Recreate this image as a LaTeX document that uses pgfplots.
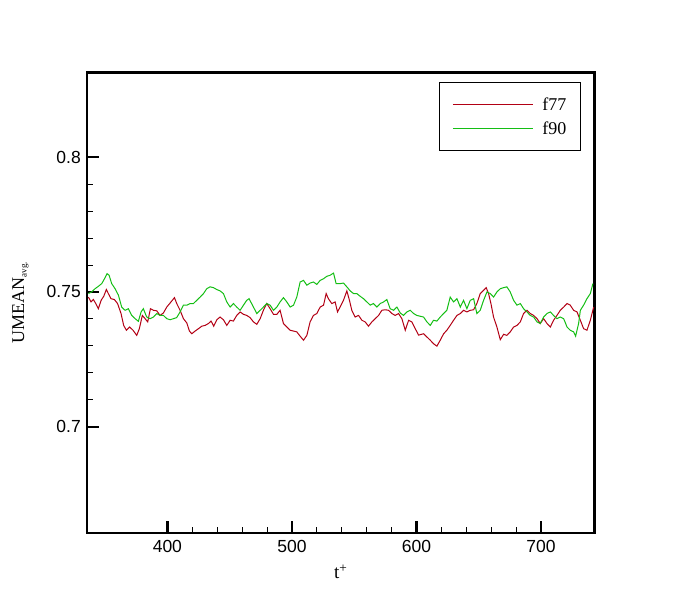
\documentclass[border=0pt]{standalone}
\usepackage{fontspec}
\setmainfont{Liberation Serif}
\newfontfamily\arial{Liberation Sans}
\usepackage{pgfplots}
\pgfplotsset{compat=1.18}
\usetikzlibrary{calc}
\definecolor{cred}{RGB}{178,0,20}
\definecolor{cgreen}{RGB}{20,190,20}
\begin{document}
\begin{tikzpicture}
\begin{axis}[
  scale only axis, width=507pt, height=460.5pt,
  xmin=335.7, xmax=742.8, ymin=0.6606, ymax=0.8314,
  xtick={400,500,600,700}, ytick={0.7,0.75,0.8},
  yticklabels={0.7,0.75,0.8},
  minor x tick num=4, minor y tick num=4,
  tick pos=left, tick align=inside,
  major tick length=12pt, minor tick length=6pt,
  major tick style={line width=2.4pt, black},
  minor tick style={line width=1pt, black},
  axis line style={line width=2.4pt, black},
  /pgf/number format/assume math mode=true,
  ticklabel style={font=\arial\fontsize{17.5}{20}\selectfont},
  xticklabel style={yshift=-4pt},
  yticklabel style={xshift=-3pt},
  xlabel={t\textsuperscript{+}},
  xlabel style={font=\fontsize{19}{22}\selectfont, at={(axis description cs:0.5,-0.085)}, anchor=center},
  ylabel={UMEAN\raisebox{-0.3ex}{\fontsize{9}{10}\selectfont avg.}},
  ylabel style={font=\fontsize{18}{21}\selectfont, at={(axis description cs:-0.132,0.5)}, anchor=center, rotate=0},
  legend cell align=left,
  legend image code/.code={\draw[#1] (0pt,0pt) -- (80pt,0pt);},
  legend style={at={(axis description cs:0.6937,0.9794)}, anchor=north west,
    draw=black, line width=0.8pt, font=\fontsize{18}{20}\selectfont,
    inner xsep=13pt, inner ysep=14pt, row sep=8pt,
    nodes={inner sep=1pt, line width=1pt}, column sep=8pt},
]
\addplot[cred, line width=1pt] coordinates {
(336.6,0.7481)(338.7,0.7463)(340.6,0.7472)(342.5,0.7457)(344.6,0.7438)(346.8,0.7469)(348.9,0.7484)(351.0,0.7509)(352.6,0.7494)(354.7,0.7475)(357.4,0.7472)(360.0,0.7457)(362.8,0.7420)(364.9,0.7376)(367.1,0.7358)(369.7,0.7370)(372.4,0.7358)(375.4,0.7339)(377.5,0.7364)(379.9,0.7413)(382.1,0.7401)(384.2,0.7389)(386.4,0.7438)(388.8,0.7432)(391.5,0.7430)(394.1,0.7413)(396.8,0.7422)(399.5,0.7444)(402.2,0.7459)(405.7,0.7479)(407.5,0.7457)(410.2,0.7432)(412.9,0.7401)(415.6,0.7385)(417.7,0.7355)(419.6,0.7345)(422.3,0.7355)(425.0,0.7364)(427.6,0.7373)(430.3,0.7376)(433.0,0.7383)(435.1,0.7392)(437.2,0.7373)(439.7,0.7397)(442.3,0.7407)(445.0,0.7397)(447.7,0.7376)(450.4,0.7395)(453.0,0.7392)(455.7,0.7413)(458.4,0.7426)(461.1,0.7417)(463.7,0.7413)(466.4,0.7405)
(469.1,0.7389)(471.8,0.7380)(474.5,0.7401)(477.1,0.7432)(479.8,0.7457)(482.5,0.7438)(485.2,0.7417)(487.9,0.7417)(490.5,0.7432)(493.2,0.7383)(495.9,0.7370)(498.6,0.7358)(501.3,0.7355)(503.9,0.7352)(506.6,0.7336)(509.3,0.7321)(512.0,0.7339)(514.6,0.7389)(517.3,0.7413)(520.0,0.7420)(522.7,0.7444)(525.4,0.7451)(527.5,0.7494)(529.3,0.7475)(532.0,0.7457)(534.7,0.7463)(536.6,0.7426)(538.7,0.7444)(541.4,0.7469)(544.1,0.7504)(546.2,0.7469)(548.1,0.7432)(550.8,0.7407)(553.5,0.7413)(556.2,0.7395)(558.8,0.7389)(561.5,0.7373)(564.2,0.7389)(566.9,0.7401)(569.6,0.7413)(572.2,0.7432)(574.9,0.7434)(577.6,0.7432)(580.3,0.7420)(582.9,0.7413)(585.6,0.7420)(588.3,0.7401)(591.0,0.7358)(593.7,0.7395)(596.3,0.7389)(599.0,0.7364)(601.7,0.7340)
(605.7,0.7345)(608.4,0.7333)(611.1,0.7321)(613.7,0.7308)(616.4,0.7299)(619.1,0.7321)(621.8,0.7345)(624.4,0.7358)(627.1,0.7376)(629.8,0.7395)(632.5,0.7413)(635.2,0.7420)(637.8,0.7432)(640.5,0.7426)(643.2,0.7432)(645.9,0.7434)(648.5,0.7457)(651.2,0.7494)(653.9,0.7506)(656.0,0.7516)(657.9,0.7494)(659.8,0.7457)(661.9,0.7407)(664.6,0.7370)(667.3,0.7323)(670.0,0.7343)(672.6,0.7339)(675.3,0.7352)(678.0,0.7370)(680.7,0.7376)(683.4,0.7389)(686.0,0.7420)(688.7,0.7432)(691.4,0.7420)(694.1,0.7413)(696.8,0.7401)(699.4,0.7383)(702.1,0.7401)(704.8,0.7383)(707.5,0.7370)(710.1,0.7395)(712.8,0.7413)(715.5,0.7432)(718.2,0.7444)(720.9,0.7457)(723.5,0.7451)(726.2,0.7432)(728.9,0.7426)(731.6,0.7395)(734.2,0.7364)(736.9,0.7358)(739.6,0.7395)(742.3,0.7444)
};
\addlegendentry{f77}
\addplot[cgreen, line width=1pt] coordinates {
(336.6,0.7494)(339.2,0.7500)(341.9,0.7512)(344.6,0.7521)(347.3,0.7531)(349.5,0.7549)(351.6,0.7568)(353.2,0.7562)(355.3,0.7531)(358.0,0.7512)(360.7,0.7488)(363.3,0.7444)(366.0,0.7432)(368.7,0.7438)(371.4,0.7413)(374.1,0.7401)(376.7,0.7391)(378.9,0.7426)(380.7,0.7438)(383.4,0.7407)(386.1,0.7401)(388.8,0.7407)(391.5,0.7420)(394.1,0.7413)(396.8,0.7413)(399.5,0.7401)(402.2,0.7397)(404.9,0.7401)(407.5,0.7405)(410.2,0.7426)(412.9,0.7451)(415.6,0.7451)(418.3,0.7457)(420.9,0.7457)(423.6,0.7469)(426.3,0.7481)(429.0,0.7494)(431.6,0.7512)(434.3,0.7519)(437.0,0.7516)(439.7,0.7509)(442.3,0.7504)(445.0,0.7494)(447.7,0.7463)(450.4,0.7444)(453.0,0.7457)(455.7,0.7444)(458.4,0.7432)(461.1,0.7451)(463.7,0.7469)(465.6,0.7475)
(469.1,0.7444)(471.8,0.7420)(474.5,0.7432)(477.1,0.7444)(479.8,0.7457)(482.5,0.7451)(485.2,0.7432)(487.9,0.7444)(490.5,0.7463)(493.2,0.7479)(495.9,0.7463)(498.6,0.7444)(501.3,0.7451)(503.9,0.7481)(506.6,0.7537)(509.3,0.7543)(512.0,0.7525)(514.6,0.7533)(517.3,0.7537)(520.0,0.7528)(522.7,0.7543)(525.4,0.7549)(528.0,0.7558)(530.7,0.7562)(533.4,0.7570)(535.5,0.7531)(538.7,0.7531)(541.4,0.7533)(544.1,0.7519)(546.8,0.7504)(549.5,0.7494)(552.1,0.7494)(554.8,0.7484)(557.5,0.7475)(560.2,0.7463)(562.9,0.7451)(565.5,0.7457)(568.2,0.7444)(570.9,0.7457)(573.6,0.7463)(576.2,0.7472)(578.9,0.7438)(581.6,0.7432)(584.3,0.7444)(587.0,0.7422)(589.6,0.7413)(592.3,0.7426)(595.0,0.7432)(597.7,0.7420)(600.3,0.7413)
(603.0,0.7410)(605.7,0.7407)(608.4,0.7389)(611.1,0.7376)(613.7,0.7395)(616.4,0.7392)(619.1,0.7407)(621.8,0.7420)(624.4,0.7432)(627.1,0.7481)(629.8,0.7463)(632.5,0.7475)(635.2,0.7444)(637.8,0.7469)(640.5,0.7438)(643.2,0.7469)(645.9,0.7475)(648.5,0.7420)(651.2,0.7432)(653.9,0.7469)(656.6,0.7500)(659.3,0.7494)(661.9,0.7481)(664.6,0.7500)(667.3,0.7512)(670.0,0.7516)(672.6,0.7519)(675.3,0.7500)(678.0,0.7469)(680.7,0.7451)(683.4,0.7457)(686.0,0.7438)(688.7,0.7426)(691.4,0.7413)(694.1,0.7407)(696.8,0.7389)(699.4,0.7383)(702.1,0.7407)(704.8,0.7420)(707.5,0.7426)(710.1,0.7413)(712.8,0.7401)(715.5,0.7407)(718.2,0.7401)(720.9,0.7370)(723.5,0.7358)(726.2,0.7352)(727.8,0.7336)(730.2,0.7383)(731.6,0.7432)(734.2,0.7451)(736.9,0.7475)(739.6,0.7494)(741.7,0.7531)
};
\addlegendentry{f90}
\end{axis}
\pgfresetboundingbox
\path[use as bounding box] ($(current axis.south west)+(-87.3pt,-69pt)$) rectangle ($(current axis.north east)+(82.7pt,72.5pt)$);
\end{tikzpicture}
\end{document}
